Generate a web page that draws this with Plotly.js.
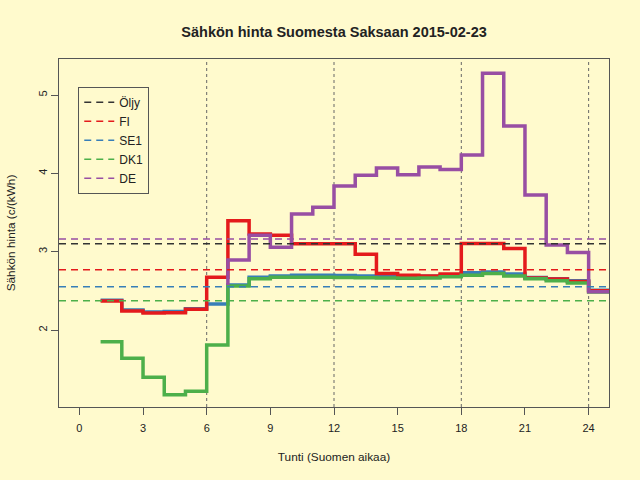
<!DOCTYPE html>
<html>
<head>
<meta charset="utf-8">
<script src="https://cdn.plot.ly/plotly-3.0.1.min.js"></script>
<style>
  html, body { margin: 0; padding: 0; background: #fffacd; }
  #plot { width: 640px; height: 480px; }
</style>
</head>
<body>
<div id="plot"></div>
<script>
// hour marks (Finnish time); first point of each series is the start anchor of the step
var hours = [1, 2, 3, 4, 5, 6, 7, 8, 9, 10, 11, 12, 13, 14, 15, 16, 17, 18, 19, 20, 21, 22, 23, 24, 25];
var deHours = [7, 8, 9, 10, 11, 12, 13, 14, 15, 16, 17, 18, 19, 20, 21, 22, 23, 24, 25];

var fiPrice = [2.37, 2.37, 2.243, 2.217, 2.22, 2.264, 2.672, 3.395, 3.225, 3.21, 3.10, 3.10, 3.10,
               2.966, 2.723, 2.70, 2.69, 2.715, 3.105, 3.105, 3.04, 2.665, 2.65, 2.62, 2.50];
var se1Price = [2.38, 2.38, 2.255, 2.23, 2.235, 2.27, 2.332, 2.575, 2.672, 2.69, 2.70, 2.70, 2.695,
                2.69, 2.69, 2.685, 2.685, 2.70, 2.73, 2.74, 2.715, 2.67, 2.655, 2.63, 2.507];
var dk1Price = [1.851, 1.851, 1.638, 1.396, 1.174, 1.217, 1.808, 2.562, 2.655, 2.672, 2.675, 2.672, 2.67,
                2.668, 2.665, 2.662, 2.665, 2.68, 2.70, 2.72, 2.69, 2.655, 2.63, 2.60, 2.485];
var dePrice = [2.575, 2.894, 3.21, 3.055, 3.48, 3.566, 3.84, 3.975, 4.068, 3.983, 4.08, 4.05,
               4.234, 5.277, 4.604, 3.723, 3.085, 2.99, 2.49];

// daily reference levels (dashed lines)
var refNames = ["Öljy", "FI", "SE1", "DK1", "DE"];
var refLevels = [3.10, 2.77, 2.553, 2.374, 3.162];
var refColors = ["#333333", "#e41a1c", "#377eb8", "#4daf4a", "#984ea3"];

var xTicks = [0, 3, 6, 9, 12, 15, 18, 21, 24];
var gridHours = [6, 12, 18, 24];
var xRange = [-0.96, 24.96];
var yRange = [1.017, 5.46];

var bg = "#fffacd";
var axisColor = "#555555";

function stepTrace(x, y, color) {
  return {
    x: x, y: y, type: "scatter", mode: "lines",
    line: {color: color, width: 3.5, shape: "vh"},
    showlegend: false, hoverinfo: "skip"
  };
}

var data = [
  stepTrace(hours, se1Price, "#377eb8"),
  stepTrace(hours, fiPrice, "#e41a1c"),
  stepTrace(hours, dk1Price, "#4daf4a"),
  stepTrace(deHours, dePrice, "#984ea3")
];

// Dashed level lines, these also make the legend
refNames.forEach(function (name, i) {
  data.push({
    x: xRange, y: [refLevels[i], refLevels[i]],
    type: "scatter", mode: "lines", name: name,
    line: {color: refColors[i], width: 1.5, dash: "7px,5px"}
  });
});

var shapes = gridHours.map(function (h) {
  return {
    type: "line", xref: "x", yref: "paper", x0: h, x1: h, y0: 0, y1: 1,
    line: {color: "#666666", width: 1, dash: "dot"}, layer: "below"
  };
});

var layout = {
  width: 640, height: 480,
  paper_bgcolor: bg, plot_bgcolor: bg,
  margin: {l: 59, r: 31, t: 59, b: 73},
  font: {family: "Liberation Sans, Arial, sans-serif", size: 11, color: "#222222"},
  title: {
    text: "<b>Sähkön hinta Suomesta Saksaan 2015-02-23</b>",
    font: {size: 14.5, color: "#222222"},
    x: 0.522, xanchor: "center", y: 0.933, yanchor: "middle"
  },
  xaxis: {
    range: xRange, tickvals: xTicks, ticks: "outside", ticklen: 7,
    tickcolor: axisColor, showline: true, mirror: true, linecolor: axisColor,
    showgrid: false, zeroline: false, ticklabelstandoff: 4,
    tickfont: {size: 11},
    title: {text: "Tunti (Suomen aikaa)", standoff: 19, font: {size: 11.8}}
  },
  yaxis: {
    range: yRange, tickvals: [2, 3, 4, 5], ticks: "outside", ticklen: 7,
    tickcolor: axisColor, showline: true, mirror: true, linecolor: axisColor,
    showgrid: false, zeroline: false, tickangle: -90,
    tickfont: {size: 11},
    title: {text: "Sähkön hinta (c/(kWh)", standoff: 18, font: {size: 11.8}}
  },
  shapes: shapes,
  legend: {
    x: 0.035, y: 0.92, xanchor: "left", yanchor: "top",
    bgcolor: bg, bordercolor: axisColor, borderwidth: 1,
    font: {size: 12}, tracegroupgap: 0, itemwidth: 30
  },
  showlegend: true
};

Plotly.newPlot("plot", data, layout, {displayModeBar: false, staticPlot: true});
</script>
</body>
</html>
